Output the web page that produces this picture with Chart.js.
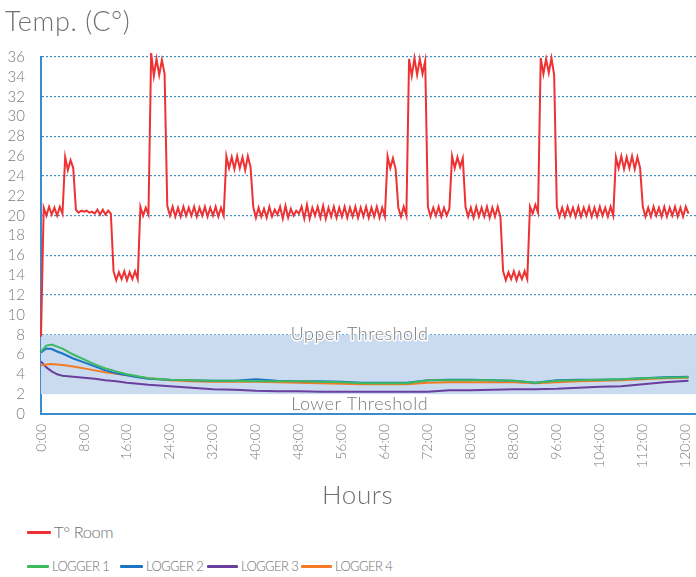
<!DOCTYPE html>
<html><head><meta charset="utf-8">
<script src="https://cdn.jsdelivr.net/npm/chart.js@4"></script>
<style>
html,body{margin:0;padding:0;background:#fff;}
body{width:696px;height:577px;position:relative;overflow:hidden;font-family:Lato,"Open Sans",sans-serif;font-weight:300;color:#707070;}
#wrap{position:absolute;left:0;top:0;width:696px;height:480px;}
.t{position:absolute;white-space:nowrap;line-height:1;}
.item{position:absolute;display:flex;align-items:center;white-space:nowrap;line-height:1;}
.sw{display:inline-block;height:3px;border-radius:1px;margin-right:3px;}
</style></head><body>
<div id="wrap"><canvas id="c" width="696" height="480"></canvas></div>
<div class="t" style="left:5px;top:7px;font-size:27px;letter-spacing:0.6px;">Temp. (C°)</div>
<div class="t" style="left:322px;top:481px;font-size:26px;letter-spacing:0.6px;">Hours</div>
<div id="legend"></div>
<script>
// ---- data ----
const roomStartHour = 0;
const roomStepHours = 0.5;
const roomTemp = [
  7.8,
  20.8,20.0,20.9,20.1,20.8,20.0,20.9,20.2,
  25.9,24.6,25.6,24.8,
  20.6,20.3,20.5,20.4,20.5,20.3,20.4,20.2,20.6,20.1,20.6,20.1,20.5,20.2,
  14.4,13.5,14.3,13.6,14.4,13.5,14.3,13.6,14.4,13.6,
  20.9,20.0,20.8,20.1,
  36.4,34.1,35.8,34.2,35.7,34.3,
  21.0,20.0,20.9,19.9,20.8,19.9,20.9,20.0,20.8,20.0,20.9,19.9,20.8,20.0,20.9,19.9,20.8,20.0,20.9,19.9,20.8,20.0,
  26.0,24.8,25.9,24.7,26.0,24.8,25.9,24.6,26.0,24.9,
  20.9,19.8,20.8,19.9,20.7,19.8,20.9,19.9,20.6,20.1,
  20.9,19.7,21.0,19.8,20.7,20.0,20.5,20.2,20.9,19.7,
  21.1,19.7,20.8,20.0,20.9,19.8,21.0,19.7,20.8,19.9,
  20.9,19.8,20.8,19.9,20.9,19.8,20.8,19.9,20.9,19.8,
  20.8,19.9,20.9,19.8,20.8,19.9,20.9,19.8,20.8,19.9,
  26.0,24.8,25.8,24.7,
  20.8,19.9,20.9,20.0,
  35.8,34.1,35.9,34.2,35.8,34.3,35.6,
  20.9,19.9,20.8,20.0,20.9,19.9,20.8,20.0,20.7,
  26.0,24.8,25.9,24.9,25.8,
  20.9,19.9,20.8,19.8,20.9,19.9,20.8,19.9,20.9,19.8,20.8,19.9,20.9,19.9,
  14.4,13.5,14.3,13.6,14.4,13.5,14.3,13.6,14.4,13.6,
  20.9,20.2,21.1,20.3,
  35.9,34.3,35.8,34.4,35.9,34.2,
  20.9,19.9,20.8,19.9,20.9,20.0,20.8,19.9,20.9,19.9,20.8,20.0,20.9,19.9,20.8,19.9,20.9,20.0,20.8,19.9,20.9,20.0,
  25.9,24.8,26.0,24.7,25.9,24.8,26.0,24.7,25.9,24.8,
  20.9,19.9,20.8,19.9,20.9,20.0,20.8,19.9,20.9,19.9,20.8,20.0,20.9,19.9,20.8,19.9,20.9,20.2
];
const loggerHours = [0,1,2,3,4,6,8,10,12,14,16,18,20,24,28,32,36,40,44,48,52,56,60,64,68,72,76,80,84,88,92,96,100,104,108,112,116,120.5];
const logger1 = [6.3,6.9,7.0,6.8,6.6,6.0,5.5,5.0,4.6,4.3,4.0,3.8,3.6,3.45,3.4,3.35,3.35,3.3,3.3,3.3,3.25,3.2,3.1,3.1,3.1,3.4,3.4,3.4,3.4,3.35,3.15,3.35,3.4,3.45,3.5,3.6,3.65,3.7];
const logger2 = [6.2,6.6,6.55,6.3,6.1,5.6,5.2,4.8,4.4,4.1,3.9,3.7,3.55,3.45,3.4,3.35,3.35,3.5,3.35,3.3,3.3,3.25,3.15,3.15,3.15,3.4,3.45,3.45,3.4,3.35,3.15,3.4,3.45,3.45,3.5,3.6,3.7,3.75];
const logger3 = [5.3,4.7,4.3,4.0,3.85,3.75,3.65,3.55,3.4,3.3,3.15,3.05,2.95,2.8,2.65,2.5,2.45,2.35,2.3,2.3,2.25,2.25,2.25,2.25,2.25,2.25,2.4,2.4,2.45,2.5,2.5,2.55,2.65,2.75,2.8,3.0,3.2,3.35];
const logger4 = [4.9,5.0,5.05,5.0,4.95,4.8,4.6,4.4,4.2,4.05,3.9,3.75,3.6,3.4,3.3,3.25,3.25,3.25,3.2,3.15,3.1,3.05,3.0,3.0,3.0,3.15,3.2,3.2,3.2,3.2,3.1,3.2,3.3,3.35,3.4,3.5,3.6,3.65];
const seriesNames = ['T° Room','LOGGER 1','LOGGER 2','LOGGER 3','LOGGER 4'];
const seriesColors = ['#ee3234','#3dba5f','#1b75c4','#6a3f9e','#f47a24'];
const upperThreshold = 8;
const lowerThreshold = 2;
const thresholdLabels = ['Upper Threshold','Lower Threshold'];
const xTickStep = 8;
const yTickStep = 2;

// ---- build ----
const roomPoints = roomTemp.map((v,i)=>({x: roomStartHour + i*roomStepHours, y: v}));
const logPts = arr => arr.map((v,i)=>({x: loggerHours[i], y: v}));
const FONT = "Lato, 'Open Sans', sans-serif";
const GRAY = '#7a7a7a';
const AXIS_BLUE = '#3a8ccc';

const thresholdPlugin = {
  id: 'threshold',
  beforeDatasetsDraw(chart){
    const {ctx, chartArea:a, scales:{y}} = chart;
    const yt = y.getPixelForValue(upperThreshold), yb = y.getPixelForValue(lowerThreshold);
    ctx.save();
    ctx.fillStyle = '#cadaef';
    ctx.fillRect(a.left, yt, a.right - a.left, yb - yt);
    ctx.restore();
  },
  afterDatasetsDraw(chart){
    const {ctx, scales:{x,y}} = chart;
    const cx = x.getPixelForValue(59.3);
    ctx.save();
    ctx.font = '300 18px ' + FONT;
    if ('letterSpacing' in ctx) ctx.letterSpacing = '0.5px';
    ctx.textAlign = 'center'; ctx.textBaseline = 'middle';
    const yu = y.getPixelForValue(upperThreshold);
    ctx.lineJoin = 'round';
    ctx.strokeStyle = '#ffffff'; ctx.lineWidth = 3;
    ctx.strokeText(thresholdLabels[0], cx, yu);
    ctx.fillStyle = GRAY;
    ctx.fillText(thresholdLabels[0], cx, yu);
    const yl = y.getPixelForValue(lowerThreshold) + 10;
    ctx.fillText(thresholdLabels[1], cx, yl);
    ctx.restore();
  }
};

const mk = (label, data, color, w) => ({label, data, borderColor: color, backgroundColor: color, borderWidth: w, pointRadius: 0, tension: 0, fill: false, clip: false});

new Chart(document.getElementById('c'), {
  type: 'line',
  data: { datasets: [
    mk(seriesNames[1], logPts(logger1), seriesColors[1], 2),
    mk(seriesNames[2], logPts(logger2), seriesColors[2], 2),
    mk(seriesNames[4], logPts(logger4), seriesColors[4], 2),
    mk(seriesNames[3], logPts(logger3), seriesColors[3], 2),
    mk(seriesNames[0], roomPoints, seriesColors[0], 2)
  ]},
  options: {
    responsive: false, animation: false, devicePixelRatio: 1,
    layout: { padding: { top: 57, right: 0, left: 0, bottom: 0 } },
    plugins: { legend: { display: false }, tooltip: { enabled: false } },
    scales: {
      x: {
        type: 'linear', min: 0, max: 121.9,
        afterFit(s){ s.height = 66; s.paddingLeft = 0; s.paddingRight = 0; },
        grid: { display: false, drawTicks: false },
        border: { display: true, color: AXIS_BLUE, width: 2 },
        ticks: { stepSize: xTickStep, includeBounds: false, autoSkip: false, maxRotation: 90, minRotation: 90, padding: 10,
          color: GRAY, font: { family: FONT, size: 14, weight: 300 },
          callback: v => v + ':00' }
      },
      y: {
        min: 0, max: 36,
        afterFit(s){ s.width = 41; },
        grid: { drawTicks: false, lineWidth: 1.2,
          color: c => (c.tick && c.tick.value % 4 === 0 && c.tick.value !== 0) ? '#3f8fc8' : 'rgba(0,0,0,0)' },
        border: { display: true, color: AXIS_BLUE, width: 2, dash: [2,2] },
        ticks: { stepSize: yTickStep, autoSkip: false, padding: 16, color: GRAY, font: { family: FONT, size: 15, weight: 300 } }
      }
    }
  },
  plugins: [thresholdPlugin]
});

// legend (layout positions only)
const legendLayout = [
  {left: 27, top: 524, sw: 24, size: 16.5, ls: -0.4},
  {left: 27, top: 560, sw: 22, size: 13, ls: -0.6},
  {left: 120, top: 560, sw: 23, size: 13, ls: -0.6},
  {left: 207, top: 560, sw: 31, size: 13, ls: -0.6},
  {left: 301, top: 560, sw: 31, size: 13, ls: -0.6}
];
const legend = document.getElementById('legend');
seriesNames.forEach((name, i) => {
  const L = legendLayout[i];
  const it = document.createElement('div'); it.className = 'item';
  it.style.left = L.left + 'px'; it.style.top = L.top + 'px'; it.style.fontSize = L.size + 'px'; it.style.letterSpacing = L.ls + 'px';
  const sw = document.createElement('span'); sw.className = 'sw'; sw.style.width = L.sw + 'px'; sw.style.background = seriesColors[i];
  const t = document.createElement('span'); t.textContent = name;
  it.appendChild(sw); it.appendChild(t); legend.appendChild(it);
});
</script>
</body></html>
